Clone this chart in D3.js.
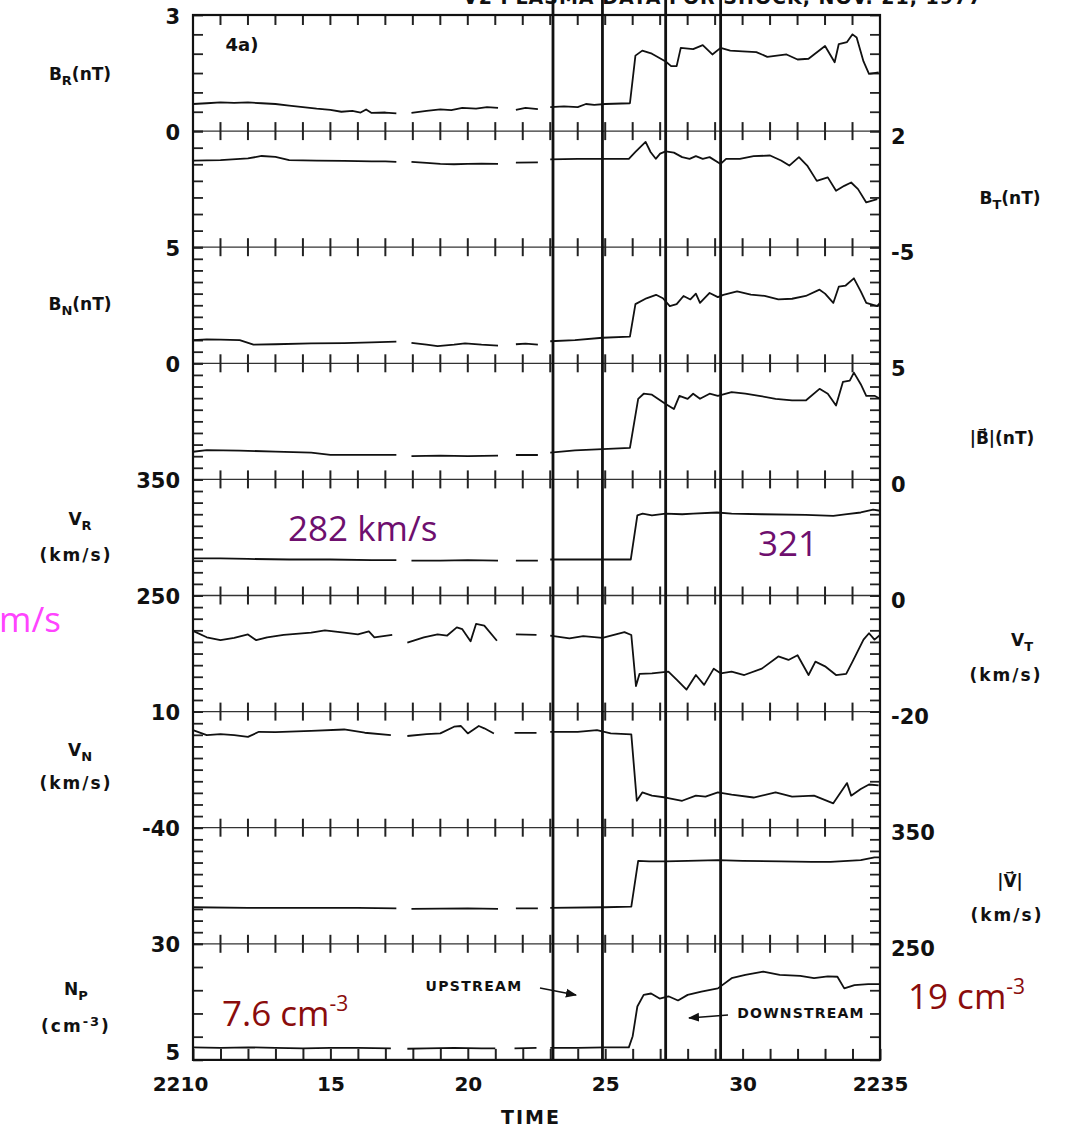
<!DOCTYPE html>
<html><head><meta charset="utf-8">
<script src="https://cdn.jsdelivr.net/npm/d3@7"></script>
<style>body{margin:0;background:#fff;overflow:hidden}</style>
</head><body><svg id="c" width="1074" height="1130"></svg>
<script>
// ---------- DATA (time = minutes after 22:00 UT, null = data gap) ----------
const minuteTicks = d3.range(10, 36);
const timeLabels = {10:"2210", 15:"15", 20:"20", 25:"25", 30:"30", 35:"2235"};
const markerTimes = [23.1, 24.9, 27.2, 29.2];

const brT = [10,10.5,11,11.5,12,12.5,13,13.5,14,14.5,15,15.4,15.8,16.1,16.3,16.5,17,17.4,null,17.95,18.5,19,19.4,19.8,20.3,20.7,21.1,null,21.75,22.1,22.55,null,23,23.5,24,24.3,24.6,25,25.9,26.1,26.35,26.7,27.2,27.4,27.6,27.75,28.2,28.55,28.9,29.2,29.55,30,30.5,30.9,31.6,32,32.4,33,33.35,33.5,33.8,34,34.15,34.4,34.6,34.95];
const brV = [0.70,0.72,0.74,0.73,0.74,0.72,0.70,0.66,0.62,0.58,0.55,0.50,0.52,0.48,0.56,0.47,0.48,0.46,null,0.47,0.52,0.56,0.54,0.60,0.58,0.62,0.60,null,0.55,0.60,0.57,null,0.62,0.64,0.62,0.70,0.68,0.70,0.72,1.95,2.08,2.00,1.80,1.68,1.68,2.15,2.12,2.22,1.98,2.15,2.08,2.06,2.04,1.92,1.98,1.85,1.87,2.20,1.78,2.25,2.30,2.50,2.42,1.80,1.48,1.52];

const btT = [10,11,12,12.5,13,13.5,14.5,15.5,16.5,17,17.4,null,17.95,18.5,19,19.5,20,20.5,21.1,null,21.75,22.55,null,23,24,25,25.86,26.1,26.47,26.65,26.84,27,27.2,27.5,27.8,28.07,28.3,28.55,28.8,29.2,29.4,29.9,30.4,31,31.4,31.7,32.05,32.35,32.7,33.1,33.4,33.7,33.95,34.2,34.5,34.9];
const btV = [0.22,0.25,0.35,0.50,0.45,0.25,0.22,0.20,0.18,0.18,0.15,null,0.15,0.08,0.02,0.00,0.02,0.04,0.02,null,0.10,0.12,null,0.30,0.32,0.33,0.33,0.74,1.35,0.74,0.33,0.64,0.78,0.70,0.43,0.33,0.49,0.33,0.43,0.02,0.33,0.33,0.49,0.53,0.23,-0.08,0.43,-0.08,-1.0,-0.79,-1.6,-1.3,-1.1,-1.5,-2.3,-2.1];

const bnT = [10,10.5,11,11.7,12.2,13,14.3,15.5,16.5,17.4,null,17.95,18.5,18.9,19.5,19.9,20.5,21.1,null,21.75,22.1,22.55,null,23,23.9,24.9,25.9,26.1,26.5,26.85,27.1,27.35,27.6,27.85,28.1,28.3,28.45,28.8,29.1,29.3,29.8,30.3,30.8,31.3,31.8,32.3,32.8,33,33.3,33.5,33.75,34.05,34.3,34.5,34.9,35];
const bnV = [1.0,1.03,1.02,1.0,0.8,0.82,0.86,0.87,0.9,0.93,null,0.88,0.8,0.74,0.8,0.86,0.8,0.76,null,0.82,0.85,0.8,null,0.95,1.0,1.1,1.15,2.55,2.8,2.95,2.8,2.46,2.55,2.9,2.75,3.0,2.6,3.03,2.85,2.95,3.1,2.96,2.9,2.75,2.78,2.9,3.17,3.0,2.6,3.3,3.35,3.66,3.1,2.6,2.46,2.6];

const bmT = [10,10.5,11.7,13,14.3,15,16,17.4,null,17.95,19,20,21.1,null,21.75,22.55,null,23,23.9,24.9,25.9,26.2,26.4,26.7,27.2,27.5,27.7,28,28.2,28.45,28.8,29.1,29.6,30.1,30.6,31.2,31.8,32.3,32.8,33.1,33.4,33.65,33.9,34.05,34.3,34.5,34.8,35];
const bmV = [1.19,1.26,1.24,1.2,1.15,1.06,1.06,1.06,null,1.0,1.02,1.0,1.02,null,1.05,1.05,null,1.15,1.25,1.3,1.36,3.47,3.69,3.65,3.25,3.03,3.6,3.47,3.69,3.47,3.69,3.6,3.76,3.69,3.6,3.47,3.4,3.4,3.9,3.69,3.18,4.2,4.25,4.6,4.1,3.6,3.6,3.47];

const vrT = [10,11,12,13.5,15,16.5,17.4,null,17.95,19,20,21.1,null,21.75,22.55,null,23,24,25,25.93,26.17,26.36,26.7,27.2,27.8,28.2,29.07,29.6,30.7,32.3,33.3,33.8,34.3,34.75,35];
const vrV = [282,282,281.5,281,281,280.5,280.5,null,280,280,280.5,280,null,280,280,null,281,281,281,281,319,320.5,319,320.5,320,320.5,321.5,320.5,320,319.5,318.5,320,321.5,324,323];

const vtT = [10,10.5,11,11.5,12,12.3,12.7,13.3,14.3,14.8,15.5,16,16.4,16.6,17.25,null,17.8,18.4,18.9,19.25,19.6,19.8,20.1,20.3,20.6,21.06,null,21.75,22.5,null,23,23.7,24.2,24.9,25.7,25.95,26.12,26.25,26.7,27.3,27.6,27.96,28.3,28.6,28.95,29.2,29.6,30.06,30.7,31.3,31.67,32,32.4,32.65,33,33.4,33.77,34,34.4,34.6,34.8,35];
const vtV = [-6.1,-7.2,-7.7,-7.3,-6.7,-7.7,-7.2,-6.8,-6.4,-6.0,-6.4,-6.7,-6.2,-7.2,-6.8,null,-8.1,-7.2,-6.7,-6.9,-5.5,-5.8,-7.9,-4.9,-5.2,-7.8,null,-6.7,-6.8,null,-6.9,-7.4,-7.0,-7.3,-6.3,-6.8,-15.6,-13.5,-13.4,-13.1,-14.5,-16.2,-13.7,-15.4,-12.6,-13.4,-13.1,-13.7,-12.6,-10.5,-11.1,-10.3,-13.7,-11.4,-12.2,-13.7,-13.5,-11.4,-7.6,-6.5,-7.6,-6.8];

const vnT = [10,10.5,11,11.5,12,12.4,13,14.3,15.5,16.25,17.2,null,17.8,18.5,19,19.5,19.75,20,20.4,20.6,20.95,null,21.7,22.5,null,23,24,24.7,25.2,25.95,26.15,26.35,26.7,27.2,27.8,28.3,28.65,29.1,29.6,30.4,31.2,31.8,32.6,33.3,33.8,33.95,34.3,34.6,34.95];
const vnV = [2.0,-0.1,0.3,-0.1,-0.9,1.3,1.2,1.7,2.3,0.9,-0.1,null,-0.5,0.3,0.6,3.5,3.8,0.6,3.8,2.8,0.6,null,0.8,0.8,null,1.3,1.3,2.0,0.6,0.2,-28.4,-24.8,-26.2,-27.0,-28.4,-26.2,-26.6,-24.8,-25.8,-27.0,-24.8,-26.6,-26.2,-29.5,-20.8,-26.2,-23.3,-21.4,-21.8];

const vmT = [10,12,14,16,17.4,null,17.95,20,21.1,null,21.75,22.55,null,23,25,25.95,26.2,26.6,27.2,28,29.1,30,31.4,32.5,33.2,34.3,34.8,35];
const vmV = [281.5,281,281,281,280.5,null,280,280.5,280,null,280.5,280.5,null,281,281.5,282,321.5,321,321,321.5,322,321.5,321,320.5,320.5,322,324.5,324.5];

const npT = [10,11,12,13,14,15,16,17.2,null,17.8,18.5,19.5,20.5,21,null,21.7,22.5,null,23,24,25,25.86,26,26.17,26.4,26.67,26.98,27.3,27.65,28,28.5,29.1,29.6,30.1,30.75,31.35,32.1,32.6,33.1,33.45,33.7,34.07,34.57,35];
const npV = [7.7,7.6,7.7,7.6,7.5,7.6,7.6,7.5,null,7.4,7.5,7.6,7.5,7.5,null,7.5,7.6,null,7.6,7.6,7.7,7.7,10.1,16.5,19.0,19.3,18.2,18.7,17.8,19.0,19.7,20.4,22.6,23.3,24.0,23.3,23.1,22.6,23.0,22.9,20.4,21.1,21.3,21.3];

// axis ranges (bottom value, top value) of each stacked panel
const domBR = [0, 3], domBT = [-5, 2], domBN = [0, 5], domBM = [0, 5], domVR = [250, 350];
const domVT = [-20, 0], domVN = [-40, 10], domVM = [250, 350], domNP = [5, 30];

// ---------- LAYOUT ----------
const X0 = 193, X1 = 880, Y0 = 15, BAND = 116.1;
const FONT = "'DejaVu Sans', sans-serif";
const svg = d3.select('#c');
const x = d3.scaleLinear().domain([10, 35]).range([X0, X1]);
const bandY = i => Y0 + BAND * i;

const panels = [
  {band:0, side:'left',  dom:domBR, n:6,  t:brT, v:brV},
  {band:1, side:'right', dom:domBT, n:7,  t:btT, v:btV},
  {band:2, side:'left',  dom:domBN, n:10, t:bnT, v:bnV},
  {band:3, side:'right', dom:domBM, n:10, t:bmT, v:bmV},
  {band:4, side:'left',  dom:domVR, n:10, t:vrT, v:vrV},
  {band:5, side:'right', dom:domVT, n:10, t:vtT, v:vtV},
  {band:6, side:'left',  dom:domVN, n:10, t:vnT, v:vnV},
  {band:7, side:'right', dom:domVM, n:10, t:vmT, v:vmV},
  {band:8, side:'left',  dom:domNP, n:5,  t:npT, v:npV}
];
panels.forEach(p => {
  p.y = d3.scaleLinear().domain(p.dom).range([bandY(p.band + 1), bandY(p.band)]);
});

// partially visible title at top edge (only the lower part of the glyphs shows)
svg.append('text').attr('x', 463).attr('y', 4).attr('font-family', FONT).attr('font-weight', 'bold')
  .attr('font-size', 19).attr('letter-spacing', 1).attr('fill', '#111')
  .text('V2 PLASMA DATA FOR SHOCK, NOV. 21, 1977');

// horizontal band-separator lines with minute ticks
for (let i = 1; i <= 8; i++) {
  const yy = bandY(i);
  svg.append('line').attr('x1', X0).attr('x2', X1).attr('y1', yy).attr('y2', yy)
    .attr('stroke', '#333').attr('stroke-width', 1.3);
  svg.append('g').selectAll('line').data(d3.range(11, 35)).join('line')
    .attr('x1', d => x(d)).attr('x2', d => x(d)).attr('y1', yy - 9).attr('y2', yy + 9)
    .attr('stroke', '#222').attr('stroke-width', 2);
}

// y-axis minor ticks on both sides for every panel
panels.forEach(p => {
  const vals = d3.range(p.n + 1).map(k => p.dom[0] + k * (p.dom[1] - p.dom[0]) / p.n);
  const gl = svg.append('g').attr('transform', `translate(${X0},0)`)
    .call(d3.axisLeft(p.y).tickValues(vals).tickSize(-10).tickFormat(''));
  const gr = svg.append('g').attr('transform', `translate(${X1},0)`)
    .call(d3.axisRight(p.y).tickValues(vals).tickSize(-10).tickFormat(''));
  [gl, gr].forEach(g => {
    g.select('.domain').remove();
    g.selectAll('line').attr('stroke', '#222').attr('stroke-width', 1.8);
  });
});

// top frame ticks
svg.append('g').selectAll('line').data(d3.range(11, 35)).join('line')
  .attr('x1', d => x(d)).attr('x2', d => x(d)).attr('y1', Y0).attr('y2', Y0 + 10)
  .attr('stroke', '#222').attr('stroke-width', 2);

// bottom time axis
const gx = svg.append('g').attr('transform', `translate(0,${bandY(9)})`)
  .call(d3.axisBottom(x).tickValues(minuteTicks).tickSize(-11).tickPadding(17)
    .tickFormat(d => timeLabels[d] || ''));
gx.select('.domain').remove();
gx.selectAll('line').attr('stroke', '#222').attr('stroke-width', 2);
gx.selectAll('text').attr('font-family', FONT).attr('font-weight', 'bold')
  .attr('font-size', 20).attr('fill', '#111')
  .attr('dx', d => d === 10 ? -13 : 0);

// frame
svg.append('rect').attr('x', X0).attr('y', Y0).attr('width', X1 - X0).attr('height', bandY(9) - Y0)
  .attr('fill', 'none').attr('stroke', '#111').attr('stroke-width', 2.2);

// scale numbers at band boundaries
panels.forEach(p => {
  const left = p.side === 'left';
  [[p.dom[1], p.band], [p.dom[0], p.band + 1]].forEach(([val, b]) => {
    const off = left ? (b === 9 ? -7 : 1) : 5;
    svg.append('text')
      .attr('x', left ? 180 : 891).attr('y', bandY(b) + off)
      .attr('dy', '0.36em').attr('text-anchor', left ? 'end' : 'start')
      .attr('font-family', FONT).attr('font-weight', 'bold').attr('font-size', 21)
      .attr('fill', '#111').text(val);
  });
});

// data traces
const line = d3.line().defined(d => d[1] != null).x(d => x(d[0]));
panels.forEach(p => {
  svg.append('path').datum(d3.zip(p.t, p.v))
    .attr('d', line.y(d => p.y(d[1])))
    .attr('fill', 'none').attr('stroke', '#111').attr('stroke-width', 1.8)
    .attr('stroke-linejoin', 'round');
});

// vertical marker lines
svg.append('g').selectAll('line').data(markerTimes).join('line')
  .attr('x1', d => x(d)).attr('x2', d => x(d)).attr('y1', 0).attr('y2', bandY(9))
  .attr('stroke', '#111').attr('stroke-width', 2.8);

// panel quantity labels
function label(xp, yp, anchor, parts, size) {
  const t = svg.append('text').attr('x', xp).attr('y', yp).attr('text-anchor', anchor)
    .attr('font-family', FONT).attr('font-weight', 'bold').attr('font-size', size || 17)
    .attr('fill', '#111');
  parts.forEach(([s, kind]) => {
    const ts = t.append('tspan').text(s);
    if (kind === 'sub') ts.attr('font-size', 13).attr('baseline-shift', '-35%');
    if (kind === 'sup') ts.attr('font-size', 13).attr('baseline-shift', '45%');
  });
  return t;
}
label(80, 80, 'middle', [['B'], ['R', 'sub'], ['(nT)']]);
label(80, 310, 'middle', [['B'], ['N', 'sub'], ['(nT)']]);
label(80, 525, 'middle', [['V'], ['R', 'sub']]);
label(76, 561, 'middle', [['(km/s)']]).attr('letter-spacing', 2);
label(80, 756, 'middle', [['V'], ['N', 'sub']]);
label(76, 789, 'middle', [['(km/s)']]).attr('letter-spacing', 2);
label(76, 995, 'middle', [['N'], ['P', 'sub']]);
label(76, 1032, 'middle', [['(cm'], ['-3', 'sup'], [')']]).attr('letter-spacing', 2);
label(1010, 204, 'middle', [['B'], ['T', 'sub'], ['(nT)']]);
label(1002, 444, 'middle', [['|B\u20D7|(nT)']]);
label(1022, 646, 'middle', [['V'], ['T', 'sub']]);
label(1006, 681, 'middle', [['(km/s)']]).attr('letter-spacing', 2);
label(1010, 887, 'middle', [['|V\u20D7|']]);
label(1007, 921, 'middle', [['(km/s)']]).attr('letter-spacing', 2);
label(242, 51, 'middle', [['4a)']], 18);
label(531, 1124, 'middle', [['TIME']], 19).attr('letter-spacing', 2);

// UPSTREAM / DOWNSTREAM notes with arrows
svg.append('defs').append('marker').attr('id', 'ah').attr('viewBox', '0 0 10 10')
  .attr('refX', 9).attr('refY', 5).attr('markerWidth', 7).attr('markerHeight', 7)
  .attr('orient', 'auto').append('path').attr('d', 'M0,1 L10,5 L0,9 Z').attr('fill', '#111');
label(474, 991, 'middle', [['UPSTREAM']], 14).attr('letter-spacing', 1.3);
svg.append('line').attr('x1', 540).attr('y1', 988).attr('x2', 576).attr('y2', 995)
  .attr('stroke', '#111').attr('stroke-width', 1.6).attr('marker-end', 'url(#ah)');
label(801, 1018, 'middle', [['DOWNSTREAM']], 14).attr('letter-spacing', 1.2);
svg.append('line').attr('x1', 728).attr('y1', 1015).attr('x2', 689).attr('y2', 1018)
  .attr('stroke', '#111').attr('stroke-width', 1.6).attr('marker-end', 'url(#ah)');

// coloured overlay annotations
const AF = "'Open Sans', sans-serif";
function note(xp, yp, fill, parts) {
  const t = svg.append('text').attr('x', xp).attr('y', yp).attr('font-family', AF)
    .attr('font-size', 35).attr('fill', fill);
  parts.forEach(([s, kind]) => {
    const ts = t.append('tspan').text(s);
    if (kind === 'sup') ts.attr('font-size', 21).attr('baseline-shift', '70%');
  });
}
note(288, 541, '#6e0f6e', [['282 km/s']]);
note(758, 556, '#6e0f6e', [['321']]);
note(-1, 632, '#ff44ff', [['m/s']]);
note(222, 1026, '#8a0c0c', [['7.6 cm'], ['-3', 'sup']]);
note(908, 1009, '#8a0c0c', [['19 cm'], ['-3', 'sup']]);
</script>
</body></html>
